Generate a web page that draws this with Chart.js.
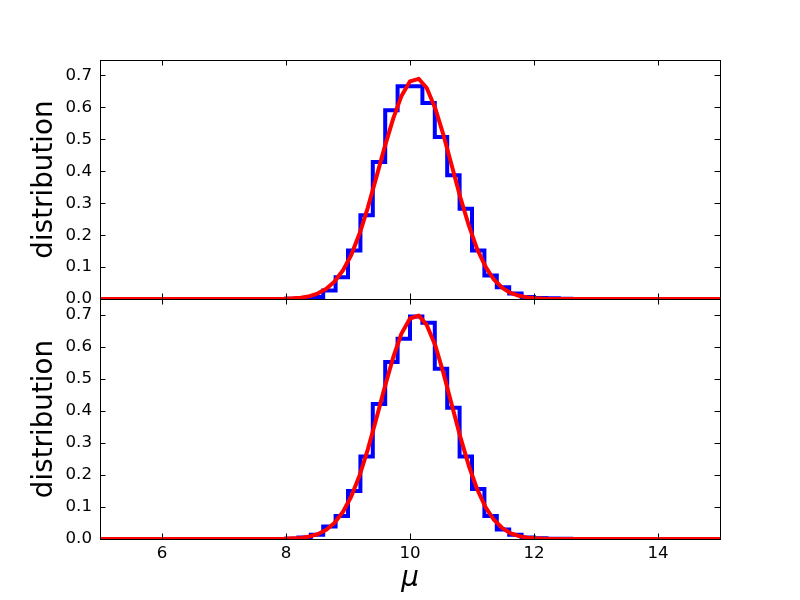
<!DOCTYPE html>
<html><head><meta charset="utf-8">
<script src="https://cdn.jsdelivr.net/npm/chart.js@4.4.0/dist/chart.umd.min.js"></script>
<style>
html,body{margin:0;padding:0;background:#fff;}
#wrap{position:relative;width:800px;height:600px;overflow:hidden;background:#fff;}
canvas{position:absolute;left:0;}
#c1{top:0;width:800px;height:318px;}
#c2{top:280px;width:800px;height:320px;}
</style></head><body>
<div id="wrap"><canvas id="c1" width="800" height="318"></canvas><canvas id="c2" width="800" height="320"></canvas></div>
<script>
// ---- data ----
const binEdges = [8.0, 8.2, 8.4, 8.6, 8.8, 9.0, 9.2, 9.4, 9.6, 9.8, 10.0, 10.2, 10.4, 10.6, 10.8, 11.0, 11.2, 11.4, 11.6, 11.8, 12.0, 12.2, 12.4, 12.6];
const histTop = [0.001, 0.003, 0.006, 0.027, 0.068, 0.152, 0.263, 0.430, 0.592, 0.668, 0.668, 0.615, 0.508, 0.388, 0.283, 0.152, 0.074, 0.037, 0.017, 0.006, 0.003, 0.002, 0.001];
const histBottom = [0.001, 0.005, 0.013, 0.039, 0.072, 0.150, 0.258, 0.422, 0.553, 0.626, 0.695, 0.676, 0.532, 0.410, 0.258, 0.156, 0.072, 0.030, 0.013, 0.005, 0.002, 0.001, 0.001];
const curveX = [5.00, 7.97, 8.11, 8.24, 8.38, 8.51, 8.65, 8.78, 8.92, 9.05, 9.19, 9.32, 9.46, 9.59, 9.73, 9.86, 10.00, 10.14, 10.27, 10.41, 10.54, 10.68, 10.81, 10.95, 11.08, 11.22, 11.35, 11.49, 11.62, 11.76, 11.89, 12.03, 12.16, 12.30, 15.00];
const curveTop = [0.000, 0.001, 0.002, 0.004, 0.009, 0.017, 0.032, 0.054, 0.090, 0.137, 0.207, 0.287, 0.384, 0.476, 0.567, 0.636, 0.683, 0.691, 0.662, 0.597, 0.514, 0.414, 0.320, 0.230, 0.158, 0.101, 0.062, 0.035, 0.019, 0.010, 0.005, 0.002, 0.001, 0.000, 0.000];
const curveBottom = [0.000, 0.001, 0.002, 0.003, 0.008, 0.015, 0.029, 0.050, 0.085, 0.132, 0.200, 0.280, 0.378, 0.473, 0.568, 0.641, 0.689, 0.698, 0.669, 0.604, 0.518, 0.415, 0.320, 0.228, 0.157, 0.099, 0.061, 0.034, 0.018, 0.009, 0.004, 0.002, 0.001, 0.000, 0.000];
const xTicks = [6, 8, 10, 12, 14];
const yTicks = [0.0, 0.1, 0.2, 0.3, 0.4, 0.5, 0.6, 0.7];
const xRange = [5, 15];
const yRange = [0, 0.75];
const yTitle = 'distribution';
const xTitle = 'μ';

// ---- helpers ----
// stepped 'before': horizontal at the current point's y up to the next x, then vertical
function histPoints(edges, h) {
  const pts = [{x: xRange[0], y: 0}];
  for (let i = 0; i < h.length; i++) pts.push({x: edges[i], y: h[i]});
  pts.push({x: edges[edges.length - 1], y: 0});
  pts.push({x: xRange[1], y: 0});
  return pts;
}
function curvePoints(xs, ys) { return xs.map((x, i) => ({x: x, y: ys[i]})); }

const TICK_FONT = {family: 'DejaVu Sans', size: 16.67, lineHeight: 1.2};
const TITLE_FONT = {family: 'DejaVu Sans', size: 27.8, lineHeight: 1.2};

const framePlugin = {
  id: 'frame',
  afterDatasetsDraw(chart) {
    const {ctx, chartArea: a, scales} = chart;
    const x = scales.x, y = scales.y;
    ctx.save();
    ctx.strokeStyle = '#000';
    ctx.lineWidth = 1;
    const L = 5.5;
    ctx.beginPath();
    xTicks.forEach(v => {
      const px = Math.floor(x.getPixelForValue(v)) + 0.5;
      ctx.moveTo(px, a.bottom); ctx.lineTo(px, a.bottom - L);
      ctx.moveTo(px, a.top); ctx.lineTo(px, a.top + L);
    });
    yTicks.forEach(v => {
      const py = Math.floor(y.getPixelForValue(v)) + 0.5;
      ctx.moveTo(a.left, py); ctx.lineTo(a.left + L, py);
      ctx.moveTo(a.right, py); ctx.lineTo(a.right - L, py);
    });
    ctx.stroke();
    const l = Math.floor(a.left) + 0.5, t = Math.floor(a.top) + 0.5;
    const r = Math.floor(a.right) + 0.5, b = Math.floor(a.bottom) + 0.5;
    ctx.strokeRect(l, t, r - l, b - t);
    ctx.restore();
  }
};

function makeChart(id, hist, curve, isBottom) {
  const ctx = document.getElementById(id);
  return new Chart(ctx, {
    type: 'line',
    data: {
      datasets: [
        {label: 'posterior', data: curvePoints(curveX, curve), borderColor: '#ff0000', borderWidth: 4,
         pointRadius: 0, tension: 0, fill: false, order: 0, clip: 0, borderJoinStyle: 'round', borderCapStyle: 'butt'},
        {label: 'histogram', data: histPoints(binEdges, hist), borderColor: '#0000ff', borderWidth: 4,
         pointRadius: 0, stepped: 'before', fill: false, order: 1, clip: 0, borderJoinStyle: 'miter'}
      ]
    },
    options: {
      responsive: false,
      animation: false,
      devicePixelRatio: 1,
      layout: {padding: isBottom ? {top: 19, right: 80, bottom: 0, left: 0} : {top: 60, right: 80, bottom: 19, left: 0}},
      plugins: {legend: {display: false}, tooltip: {enabled: false}},
      scales: {
        x: {
          type: 'linear', min: xRange[0], max: xRange[1],
          display: isBottom,
          grid: {display: false, drawTicks: false},
          border: {display: false},
          afterBuildTicks: s => { s.ticks = xTicks.map(v => ({value: v})); },
          afterFit: s => { if (isBottom) s.height = 61; },
          ticks: {color: '#000', font: TICK_FONT, padding: 5, maxRotation: 0, minRotation: 0, autoSkip: false,
                  callback: v => String(v)},
          title: {display: isBottom, text: xTitle, color: '#000',
                  font: {family: 'DejaVu Sans', size: 27.8, style: 'italic', lineHeight: 1.2},
                  padding: {top: 0, bottom: 5}}
        },
        y: {
          type: 'linear', min: yRange[0], max: yRange[1],
          grid: {display: false, drawTicks: false},
          border: {display: false},
          afterBuildTicks: s => { s.ticks = yTicks.map(v => ({value: v})); },
          afterFit: s => { s.width = 100; },
          ticks: {color: '#000', font: TICK_FONT, padding: 8, autoSkip: false,
                  callback: v => Number(v).toFixed(1)},
          title: {display: true, text: yTitle, color: '#000', font: TITLE_FONT, padding: {top: 28, bottom: 0}}
        }
      }
    },
    plugins: [framePlugin]
  });
}

makeChart('c1', histTop, curveTop, false);
makeChart('c2', histBottom, curveBottom, true);
</script>
</body></html>
